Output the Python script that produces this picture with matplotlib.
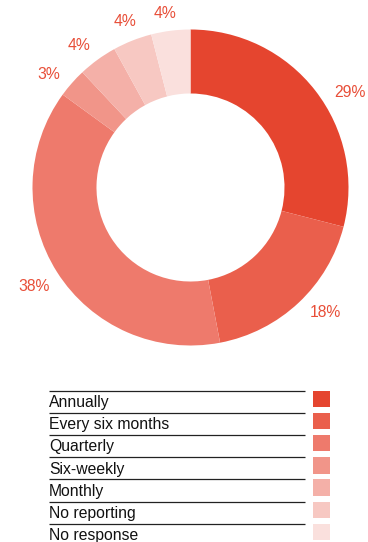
import numpy as np
import matplotlib
matplotlib.use('Agg')
import matplotlib.pyplot as plt
from matplotlib.patches import Rectangle

plt.rcParams['font.family'] = ['Liberation Sans', 'DejaVu Sans']

# reporting frequency shares (%)
categories = ['Annually', 'Every six months', 'Quarterly', 'Six-weekly',
              'Monthly', 'No reporting', 'No response']
shares = [29, 18, 38, 3, 4, 4, 4]
colors = ['#E5452F', '#EA5F4C', '#EE7A6C', '#F19589',
          '#F4B0A8', '#F7C8C2', '#FAE0DD']
label_nudge = [-7, 4, 0, 3, 2, 0, 1]  # degrees, shifts a few labels off the wedge middle

W, H = 368, 542
fig = plt.figure(figsize=(W / 100, H / 100), dpi=100)
ax = fig.add_axes([0, 0, 1, 1])

cx, cy, R = 190.5, H - 187.5, 158
wedges, _ = ax.pie(shares, colors=colors, startangle=90, counterclock=False,
                   center=(cx, cy), radius=R,
                   wedgeprops=dict(width=R * 0.405, linewidth=0))

# percentage labels outside the ring, kept a fixed gap from the edge
for w, v, dn in zip(wedges, shares, label_nudge):
    ang = np.deg2rad((w.theta1 + w.theta2) / 2 + dn)
    half_w = 16 if v >= 10 else 11.5
    r = R + 11 + abs(np.cos(ang)) * half_w + abs(np.sin(ang)) * 5.5
    ax.text(cx + r * np.cos(ang), cy + r * np.sin(ang), f'{v}%',
            ha='center', va='center', fontsize=11.3, color='#E84E38')

# legend as ruled table with colour swatches
y0, step = H - 390.5, 22.2
for i, (name, c) in enumerate(zip(categories, colors)):
    y = y0 - i * step
    ax.plot([49, 305], [y, y], color='#222222', lw=0.9, solid_capstyle='butt')
    ax.text(49, y - 16.5, name, ha='left', va='baseline', fontsize=11.3, color='#111111')
    ax.add_patch(Rectangle((313, y - 16.5), 17, 16.5, facecolor=c, edgecolor='none'))

ax.set_xlim(0, W)
ax.set_ylim(0, H)
ax.set_aspect('auto')
ax.axis('off')
fig.savefig('out.png', dpi=100)
